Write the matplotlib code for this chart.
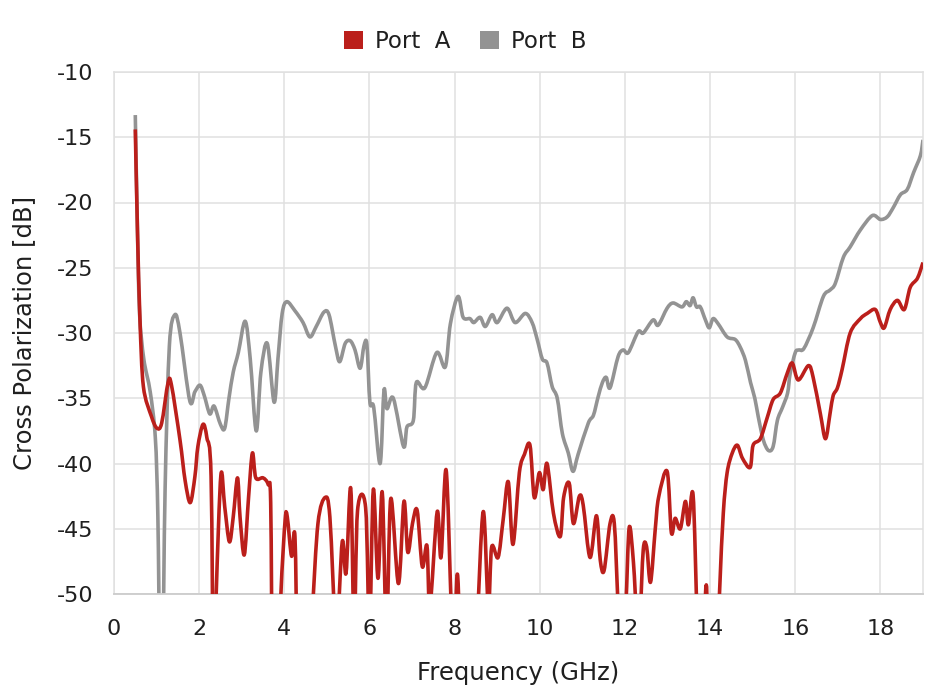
import numpy as np
import matplotlib
matplotlib.use("Agg")
import matplotlib.pyplot as plt
from matplotlib.path import Path
from matplotlib.patches import PathPatch, Patch

plt.rcParams['font.family'] = ['DejaVu Sans']
plt.rcParams['axes.unicode_minus'] = False

# ---------------- data ----------------
port_b_freq = [0.5, 0.55, 0.6, 0.7, 0.85, 0.97, 1.03, 1.08, 1.14, 1.2, 1.3, 1.43, 1.55, 1.78, 1.9,
               2.02, 2.12, 2.25, 2.35, 2.5, 2.6, 2.7, 2.8, 2.92, 3.08, 3.2, 3.34, 3.45, 3.6, 3.76,
               3.85, 3.95, 4.06, 4.25, 4.44, 4.6, 4.75, 4.93, 5.05, 5.2, 5.3, 5.43, 5.55, 5.66, 5.78,
               5.87, 5.94, 6.01, 6.1, 6.25, 6.34, 6.41, 6.56, 6.8, 6.88, 7.03, 7.1, 7.3, 7.58, 7.78,
               7.9, 8.08, 8.2, 8.36, 8.45, 8.6, 8.72, 8.88, 9.0, 9.23, 9.42, 9.66, 9.82, 9.94, 10.06,
               10.17, 10.29, 10.41, 10.53, 10.67, 10.78, 10.9, 11.14, 11.26, 11.37, 11.47, 11.56, 11.65,
               11.84, 11.96, 12.08, 12.31, 12.43, 12.66, 12.78, 12.99, 13.13, 13.34, 13.44, 13.53, 13.6,
               13.68, 13.77, 13.89, 13.98, 14.07, 14.19, 14.4, 14.59, 14.71, 14.83, 14.95, 15.05, 15.13,
               15.25, 15.37, 15.48, 15.58, 15.7, 15.82, 15.88, 16.0, 16.08, 16.2, 16.42, 16.66, 16.82,
               16.94, 17.13, 17.29, 17.53, 17.81, 18.0, 18.16, 18.3, 18.47, 18.63, 18.78, 18.94, 19.0]
port_b_db = [-13.3, -22, -28.5, -32, -34.5, -38, -44, -56, -56, -42, -31, -28.6, -30, -35.2, -34.5,
             -34, -34.8, -36.2, -35.6, -37, -37.3, -35, -33, -31.5, -29.1, -32, -37.5, -33, -30.8, -35.3,
             -32, -28.5, -27.6, -28.3, -29.2, -30.3, -29.5, -28.4, -28.6, -31, -32.2, -30.8, -30.6, -31.3, -32.7,
             -31, -30.9, -35.3, -35.7, -40.0, -34.4, -35.8, -35.0, -38.7, -37.2, -36.7, -33.8, -34.2, -31.5, -32.6,
             -29.3, -27.2, -28.8, -28.9, -29.2, -28.8, -29.5, -28.6, -29.2, -28.1, -29.2, -28.5, -29.2, -30.5, -32,
             -32.3, -34.1, -35, -37.7, -39.2, -40.6, -39.3, -36.9, -36.3, -34.9, -33.8, -33.4, -34.2,
             -31.8, -31.3, -31.5, -29.9, -30.0, -29.0, -29.4, -28.1, -27.7, -28.0, -27.6, -27.9, -27.3,
             -28.0, -28.0, -29.0, -29.6, -28.9, -29.3, -30.3, -30.5, -31.1, -32.1, -33.8, -35, -36.4,
             -38.2, -39, -38.7, -36.7, -35.7, -34.6, -33.1, -31.5, -31.3, -31.2, -29.6, -27.2, -26.7,
             -26.2, -24.2, -23.4, -22.1, -21.0, -21.3, -21.1, -20.4, -19.4, -19.0, -17.7, -16.4, -15.2]

port_a_freq = [0.5, 0.55, 0.61, 0.69, 0.88, 1.01, 1.12, 1.27, 1.35, 1.55, 1.67, 1.79, 1.9, 1.97, 2.09,
               2.18, 2.28, 2.34, 2.4, 2.51, 2.6, 2.71, 2.8, 2.9, 2.96, 3.06, 3.16, 3.25, 3.33, 3.5,
               3.62, 3.68, 3.73, 3.85, 3.92, 4.02, 4.07, 4.17, 4.25, 4.32, 4.5, 4.65, 4.79, 4.96, 5.07,
               5.22, 5.36, 5.45, 5.56, 5.64, 5.72, 5.91, 6.0, 6.09, 6.2, 6.3, 6.4, 6.5, 6.68, 6.81,
               6.9, 7.01, 7.12, 7.24, 7.35, 7.42, 7.59, 7.68, 7.8, 7.92, 7.98, 8.06, 8.13, 8.3, 8.5,
               8.67, 8.79, 8.87, 9.02, 9.14, 9.26, 9.37, 9.52, 9.64, 9.77, 9.87, 9.99, 10.08, 10.17, 10.32,
               10.48, 10.56, 10.69, 10.79, 10.93, 11.02, 11.18, 11.33, 11.42, 11.51, 11.65, 11.75, 11.84, 11.92, 12.02,
               12.1, 12.2, 12.28, 12.35, 12.43, 12.51, 12.6, 12.71, 12.79, 12.99, 13.09, 13.18, 13.3, 13.42, 13.49,
               13.6, 13.7, 13.8, 13.91, 13.96, 14.1, 14.22, 14.31, 14.4, 14.52, 14.64, 14.76, 14.94, 15.01, 15.18,
               15.34, 15.48, 15.65, 15.81, 15.93, 16.07, 16.31, 16.42, 16.59, 16.71, 16.82, 16.89, 16.99, 17.1, 17.29,
               17.53, 17.69, 17.88, 18.0, 18.09, 18.23, 18.4, 18.56, 18.7, 18.87, 19.0]
port_a_db = [-14.4, -22, -29, -34.1, -36.4, -37.3, -36.9, -33.8, -34, -38.2, -41.3, -43, -41, -38.7, -37,
             -38, -41, -58, -50, -40.9, -43.3, -46, -44.1, -41.1, -44.1, -47, -42.6, -39.2, -41.1, -41.1,
             -41.6, -43, -58, -58, -50, -44.3, -44.1, -47.1, -45.6, -56, -62, -52, -44.6, -42.6, -44.1,
             -53, -46, -48.4, -41.9, -53, -43.6, -43.4, -53, -42, -48.8, -42.2, -53, -42.7, -49.2, -42.9,
             -46.8, -44.6, -43.6, -47.9, -46.3, -51, -43.7, -47.2, -40.5, -51, -55, -48.5, -53, -62, -54,
             -43.7, -51, -46.4, -47.2, -44.3, -41.4, -46.2, -40.7, -39.3, -38.6, -42.6, -40.7, -42, -40, -43.8,
             -45.6, -42.6, -41.5, -44.6, -42.5, -43.2, -47.2, -44, -47.4, -48.2, -44.6, -44.6, -51, -56, -51,
             -44.9, -47.6, -52, -52, -46.6, -46.4, -49.1, -45.1, -42.6, -40.6, -45.3, -44.2, -45.0, -42.9, -44.7,
             -42.4, -52, -56, -49.3, -56, -60, -50, -43.8, -40.7, -39.2, -38.6, -39.6, -40.3, -38.6, -38.1,
             -36.5, -35.1, -34.6, -33.1, -32.3, -33.6, -32.5, -33.4, -36.2, -38.1, -36.1, -34.8, -34.2, -32.8, -30,
             -28.9, -28.5, -28.2, -29.2, -29.6, -28.2, -27.5, -28.2, -26.5, -25.8, -24.6]

series_names = ["Port  A", "Port  B"]
series_colors = ["#bb1f1b", "#939393"]
x_ticks = [0, 2, 4, 6, 8, 10, 12, 14, 16, 18]
y_ticks = [-50, -45, -40, -35, -30, -25, -20, -15, -10]


def smooth_path(xs, ys, s=0.16):
    p = np.column_stack([xs, ys]).astype(float)
    n = len(p)
    verts = [p[0]]
    codes = [Path.MOVETO]
    for i in range(n - 1):
        p0 = p[i - 1] if i > 0 else p[i]
        p1 = p[i]
        p2 = p[i + 1]
        p3 = p[i + 2] if i + 2 < n else p[i + 1]
        c1 = p1 + s * (p2 - p0)
        c2 = p2 - s * (p3 - p1)
        c1[0] = min(max(c1[0], p1[0]), p2[0])
        c2[0] = min(max(c2[0], p1[0]), p2[0])
        verts += [c1, c2, p2]
        codes += [Path.CURVE4] * 3
    return Path(verts, codes)


FS_TICK = 16
FS_LABEL = 17.5
FS_LEG = 16.5
TXT = "#1f1f1f"

fig = plt.figure(figsize=(9.3, 6.96), dpi=100)
ax = fig.add_axes([114 / 930, 1 - 594 / 696, 809 / 930, 522 / 696])
ax.set_xlim(0, 19)
ax.set_ylim(-50, -10)

for xs, ys, c, z in [(port_b_freq, port_b_db, series_colors[1], 2),
                     (port_a_freq, port_a_db, series_colors[0], 3)]:
    patch = PathPatch(smooth_path(xs, ys), fill=False, edgecolor=c, lw=2.6,
                      capstyle='butt', joinstyle='round', zorder=z)
    ax.add_patch(patch)

ax.set_xticks(x_ticks)
ax.set_yticks(y_ticks)
ax.grid(True, color="#e0e0e0", lw=1.1, zorder=0)
ax.set_axisbelow(True)
for side in ["top", "right", "left"]:
    ax.spines[side].set_color("#e0e0e0")
    ax.spines[side].set_linewidth(1.1)
ax.spines["bottom"].set_color("#cccccc")
ax.spines["bottom"].set_linewidth(1.3)
ax.tick_params(axis='both', length=0, labelsize=FS_TICK, colors=TXT)
ax.tick_params(axis='x', pad=18)
ax.tick_params(axis='y', pad=15)
ax.set_xlabel("Frequency (GHz)", fontsize=FS_LABEL, color=TXT, labelpad=16)
ax.set_ylabel("Cross Polarization [dB]", fontsize=FS_LABEL, color=TXT, labelpad=15)

handles = [Patch(facecolor=c, edgecolor='none') for c in series_colors]
fig.legend(handles, series_names, loc='upper center', bbox_to_anchor=(0.5, 0.987), ncol=2,
           frameon=False, fontsize=FS_LEG, handlelength=0.85, handleheight=0.85,
           handletextpad=0.5, columnspacing=1.3, labelcolor=TXT)

fig.savefig("out.png", dpi=100)
